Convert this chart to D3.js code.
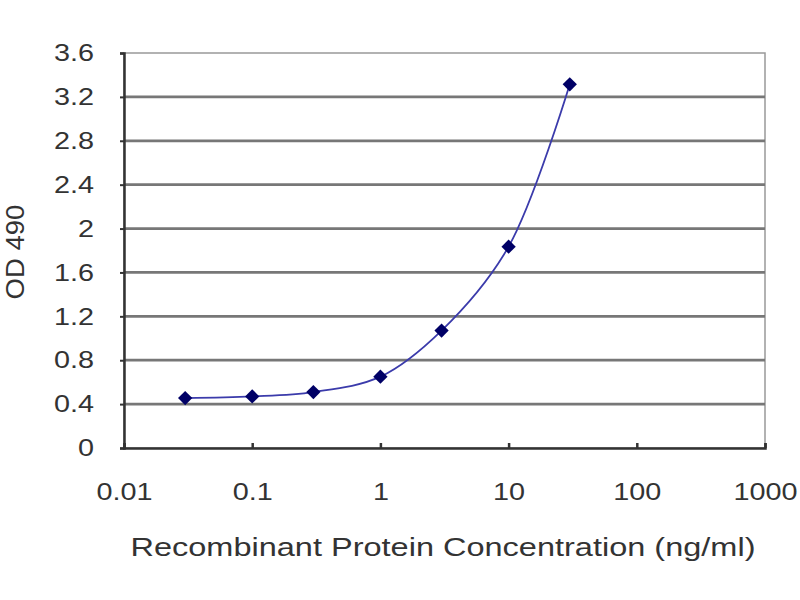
<!DOCTYPE html>
<html>
<head>
<meta charset="utf-8">
<script src="https://cdn.jsdelivr.net/npm/d3@7"></script>
<style>
  body { margin: 0; background: #fff; }
  text { font-family: "Liberation Sans", Arial, sans-serif; fill: #333; }
</style>
</head>
<body>
<div id="chart"></div>
<script>
const concentrations = [0.03, 0.1, 0.3, 1, 3, 10, 30];
const odValues = [0.455, 0.47, 0.51, 0.65, 1.07, 1.835, 3.315];
const yTicks = [0, 0.4, 0.8, 1.2, 1.6, 2, 2.4, 2.8, 3.2, 3.6];
const xTicks = [0.01, 0.1, 1, 10, 100, 1000];

const width = 800;
const height = 600;
const margin = { top: 53, right: 35, bottom: 152, left: 124 };

// the source picture is stretched sideways, so widen glyphs a little
function stretch(sel, factor) {
  sel.each(function () {
    const w = this.getComputedTextLength();
    d3.select(this)
      .attr("textLength", w * factor)
      .attr("lengthAdjust", "spacingAndGlyphs");
  });
}

const svg = d3.select("#chart")
  .append("svg")
  .attr("width", width)
  .attr("height", height);

const x = d3.scaleLog()
  .domain([0.01, 1000])
  .range([margin.left, width - margin.right]);

const y = d3.scaleLinear()
  .domain([0, 3.6])
  .range([height - margin.bottom, margin.top]);

// plot frame
svg.append("rect")
  .attr("x", margin.left)
  .attr("y", margin.top)
  .attr("width", x.range()[1] - x.range()[0])
  .attr("height", y.range()[0] - y.range()[1])
  .attr("fill", "#fff")
  .attr("stroke", "#999")
  .attr("stroke-width", 1.5);

// horizontal gridlines
svg.append("g")
  .selectAll("line")
  .data(yTicks.filter(d => d > 0 && d < 3.6))
  .join("line")
  .attr("x1", margin.left)
  .attr("x2", width - margin.right)
  .attr("y1", d => y(d))
  .attr("y2", d => y(d))
  .attr("stroke", "#777")
  .attr("stroke-width", 2.8);

// y axis
const yAxis = svg.append("g")
  .attr("transform", `translate(${margin.left},0)`)
  .call(d3.axisLeft(y).tickValues(yTicks).tickSize(4).tickPadding(26)
    .tickFormat(d => d3.format("")(+d.toFixed(1))));
yAxis.select(".domain").attr("stroke", "#333").attr("stroke-width", 2.5);
yAxis.selectAll(".tick line").attr("stroke", "#333").attr("stroke-width", 2);
yAxis.selectAll(".tick text").attr("font-size", 24).attr("fill", "#333");
stretch(yAxis.selectAll(".tick text"), 1.2);

// x axis
const xAxis = svg.append("g")
  .attr("transform", `translate(0,${height - margin.bottom})`)
  .call(d3.axisBottom(x).tickValues(xTicks).tickSize(-5).tickPadding(35)
    .tickFormat(d => String(d)));
xAxis.select(".domain").attr("stroke", "#333").attr("stroke-width", 2.5);
xAxis.selectAll(".tick line").attr("stroke", "#333").attr("stroke-width", 2.5);
xAxis.selectAll(".tick text").attr("font-size", 24).attr("fill", "#333");
stretch(xAxis.selectAll(".tick text"), 1.2);

// series
const points = concentrations.map((c, i) => [c, odValues[i]]);

svg.append("path")
  .datum(points)
  .attr("fill", "none")
  .attr("stroke", "#3b3bab")
  .attr("stroke-width", 1.8)
  .attr("d", d3.line()
    .x(d => x(d[0]))
    .y(d => y(d[1]))
    .curve(d3.curveCatmullRom.alpha(0.5)));

const diamond = d3.symbolDiamond2 || d3.symbolDiamond;
svg.append("g")
  .selectAll("path")
  .data(points)
  .join("path")
  .attr("transform", d => `translate(${x(d[0])},${y(d[1])})`)
  .attr("d", d3.symbol().type(diamond).size(130))
  .attr("fill", "#000066");

// axis titles
const xTitle = svg.append("text")
  .attr("x", 443)
  .attr("y", 556)
  .attr("text-anchor", "middle")
  .attr("font-size", 26)
  .text("Recombinant Protein Concentration (ng/ml)");
stretch(xTitle, 1.25);

const yTitle = svg.append("text")
  .attr("transform", `translate(24,252) rotate(-90)`)
  .attr("text-anchor", "middle")
  .attr("font-size", 25)
  .text("OD 490");
stretch(yTitle, 1.1);
</script>
</body>
</html>
